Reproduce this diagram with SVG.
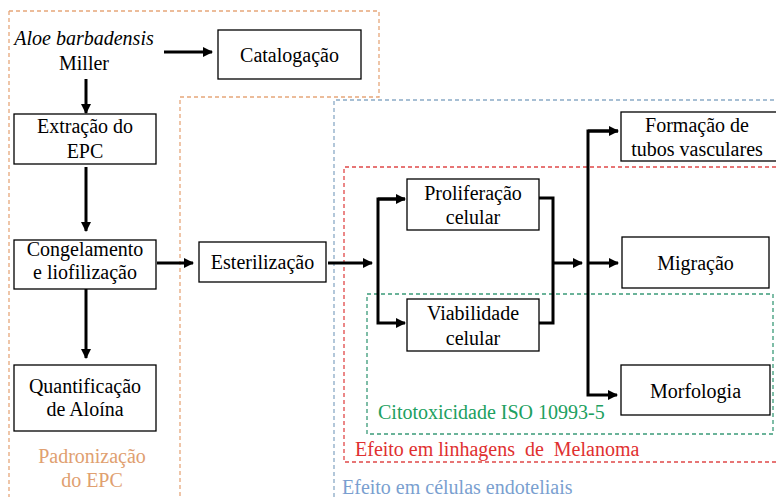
<svg xmlns="http://www.w3.org/2000/svg" width="776" height="497" viewBox="0 0 776 497">
<style>
.bg{fill:#ffffff}
.node{fill:#ffffff;stroke:#000000;stroke-width:1.3}
.t{font-family:"Liberation Serif","Times New Roman",serif;font-size:20px;fill:#000000;text-anchor:middle}
.it{font-style:italic}
.lab{font-family:"Liberation Serif","Times New Roman",serif;font-size:20px;white-space:pre}
.dash{fill:none;stroke-width:1.3;stroke-dasharray:4 3}
.or{stroke:#E6A77A}
.bl{stroke:#8AAAC6}
.rd{stroke:#E04848}
.gr{stroke:#3A9A78}
.con{fill:none;stroke:#000000;stroke-width:3}
</style>
<defs>
<marker id="ah" viewBox="0 0 10 10" refX="9" refY="5" markerWidth="3.4" markerHeight="3.4" orient="auto" markerUnits="strokeWidth">
<path d="M0,0 L10,5 L0,10 Z" fill="#000000"/>
</marker>
</defs>
<rect class="bg" x="0" y="0" width="776" height="497"/>

<g id="regions">
<path class="dash or" d="M9,11 L379,11 L379,97 L180,97 L180,497"/>
<path class="dash or" d="M9,11 L9,497"/>
<path class="dash bl" d="M334,497 L334,100 L776,100"/>
<path class="dash rd" d="M776,167 L344,167 L344,462 L776,462"/>
<path class="dash gr" d="M367,294 L773,294 L773,434 L367,434 Z"/>
<text class="lab" x="92" y="463" fill="#E0A070" text-anchor="middle">Padronização</text>
<text class="lab" x="92" y="487" fill="#E0A070" text-anchor="middle">do EPC</text>
<text class="lab" x="342" y="494" fill="#7A9FD0">Efeito em células endoteliais</text>
<text class="lab" x="355" y="456" fill="#E03030" xml:space="preserve">Efeito em linhagens  de  Melanoma</text>
<text class="lab" x="378" y="419" fill="#20A060">Citotoxicidade ISO 10993-5</text>
</g>

<g id="connectors">
<line class="con" x1="164" y1="52" x2="212" y2="52" marker-end="url(#ah)"/>
<line class="con" x1="86" y1="79" x2="86" y2="113" marker-end="url(#ah)"/>
<line class="con" x1="86" y1="167" x2="86" y2="231" marker-end="url(#ah)"/>
<line class="con" x1="86" y1="289" x2="86" y2="358" marker-end="url(#ah)"/>
<line class="con" x1="157" y1="263" x2="193" y2="263" marker-end="url(#ah)"/>
<line class="con" x1="328" y1="263" x2="372" y2="263" marker-end="url(#ah)"/>
<path class="con" d="M405,199 L378,199 L378,323 L405,323" marker-end="url(#ah)"/>
<line class="con" x1="378" y1="199" x2="405" y2="199" marker-end="url(#ah)"/>
<path class="con" d="M539,198 L553,198 L553,323 L539,323"/>
<line class="con" x1="553" y1="263" x2="582" y2="263" marker-end="url(#ah)"/>
<path class="con" d="M618,131 L588,131 L588,395 L617,395" marker-end="url(#ah)"/>
<line class="con" x1="588" y1="131" x2="618" y2="131" marker-end="url(#ah)"/>
<line class="con" x1="588" y1="263" x2="618" y2="263" marker-end="url(#ah)"/>
</g>

<g id="aloe">
<text class="t it" x="84" y="45">Aloe barbadensis</text>
<text class="t" x="84" y="70">Miller</text>
</g>
<g id="catalogacao">
<rect class="node" x="218" y="30" width="143" height="49"/>
<text class="t" x="289.5" y="62">Catalogação</text>
</g>
<g id="extracao">
<rect class="node" x="14" y="114" width="142" height="50"/>
<text class="t" x="85" y="133">Extração do</text>
<text class="t" x="85" y="158">EPC</text>
</g>
<g id="congelamento">
<rect class="node" x="14" y="240" width="142" height="49"/>
<text class="t" x="85" y="256">Congelamento</text>
<text class="t" x="85" y="279">e liofilização</text>
</g>
<g id="quantificacao">
<rect class="node" x="14" y="365" width="142" height="66"/>
<text class="t" x="85" y="393">Quantificação</text>
<text class="t" x="85" y="416">de Aloína</text>
</g>
<g id="esterilizacao">
<rect class="node" x="199" y="242" width="127" height="40"/>
<text class="t" x="262.5" y="269">Esterilização</text>
</g>
<g id="proliferacao">
<rect class="node" x="407" y="179" width="132" height="51"/>
<text class="t" x="473" y="200">Proliferação</text>
<text class="t" x="473" y="224">celular</text>
</g>
<g id="viabilidade">
<rect class="node" x="407" y="299" width="132" height="52"/>
<text class="t" x="473" y="320">Viabilidade</text>
<text class="t" x="473" y="345">celular</text>
</g>
<g id="formacao">
<rect class="node" x="621" y="112" width="160" height="49"/>
<text class="t" x="697" y="132">Formação de</text>
<text class="t" x="697" y="156">tubos vasculares</text>
</g>
<g id="migracao">
<rect class="node" x="622" y="237" width="147" height="51"/>
<text class="t" x="695.5" y="270">Migração</text>
</g>
<g id="morfologia">
<rect class="node" x="621" y="365" width="149" height="50"/>
<text class="t" x="695.5" y="398">Morfologia</text>
</g>
</svg>
